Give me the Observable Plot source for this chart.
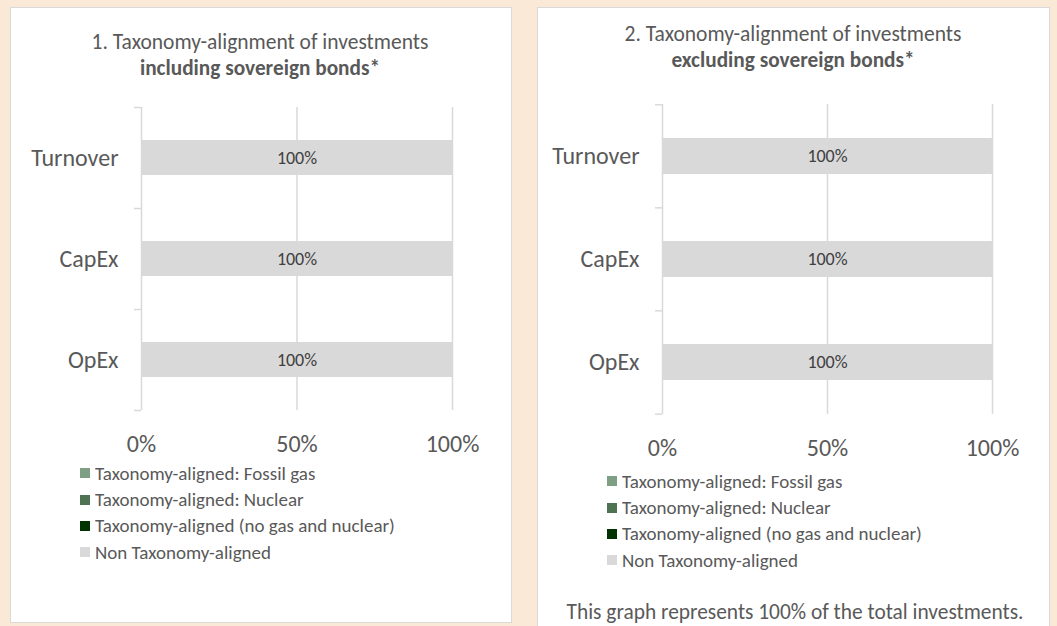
<!DOCTYPE html>
<html>
<head>
<meta charset="utf-8">
<script src="https://cdn.jsdelivr.net/npm/d3@7"></script>
<script src="https://cdn.jsdelivr.net/npm/@observablehq/plot@0.6"></script>
<style>
  html, body { margin: 0; padding: 0; }
  body { width: 1057px; height: 626px; overflow: hidden; background: #FBE9D7; position: relative;
         font-family: Carlito, Lato, sans-serif; color: #595959; }
  .panel { position: absolute; background: #fff; border: 1.5px solid #D9D9D9; box-sizing: border-box; }
  .title { position: absolute; text-align: center; font-size: 21.5px; line-height: 26px; color: #595959; white-space: nowrap; }
  .title b { font-weight: 700; font-size: 21.3px; }
  .chart { position: absolute; }
  .leg { position: absolute; }
  .lg-swatch { padding-bottom: 0 !important; height: 26.4px; display: flex !important; align-items: center !important; }
  .lg-swatch svg { margin-right: 5px !important; }
  .caption { position: absolute; text-align: center; font-size: 21.4px; color: #595959; white-space: nowrap; }
</style>
</head>
<body>
<div class="panel" style="left:10px;top:7px;width:502px;height:616px;"></div>
<div class="panel" style="left:537px;top:7px;width:513px;height:640px;"></div>

<div class="title" style="left:60px;width:400px;top:29px;">1. Taxonomy-alignment of investments<br><b>including sovereign bonds*</b></div>
<div class="title" style="left:593px;width:400px;top:21px;">2. Taxonomy-alignment of investments<br><b>excluding sovereign bonds*</b></div>

<div id="chart1" class="chart" style="left:0px;top:80px;"></div>
<div id="chart2" class="chart" style="left:527px;top:80px;"></div>
<div id="leg1" class="leg" style="left:80px;top:460px;"></div>
<div id="leg2" class="leg" style="left:607px;top:468px;"></div>
<div class="caption" style="left:545px;width:500px;top:599px;">This graph represents 100% of the total investments.</div>

<script>
// ---- Data ----
const categories = ["Turnover", "CapEx", "OpEx"];
const seriesNames = [
  "Taxonomy-aligned: Fossil gas",
  "Taxonomy-aligned: Nuclear",
  "Taxonomy-aligned (no gas and nuclear)",
  "Non Taxonomy-aligned"
];
const seriesColors = ["#7F9F85", "#4E7352", "#003300", "#D9D9D9"];
const xTicks = [0, 50, 100];

// Chart 1: including sovereign bonds
const incFossilGas = [0, 0, 0];
const incNuclear   = [0, 0, 0];
const incAligned   = [0, 0, 0];
const incNonAligned = [100, 100, 100];

// Chart 2: excluding sovereign bonds
const excFossilGas = [0, 0, 0];
const excNuclear   = [0, 0, 0];
const excAligned   = [0, 0, 0];
const excNonAligned = [100, 100, 100];

function rowsOf(seriesArrays) {
  const rows = [];
  categories.forEach((c, i) => {
    seriesNames.forEach((s, j) => rows.push({category: c, series: s, value: seriesArrays[j][i]}));
  });
  return rows;
}

const FONT = "Carlito, Lato, sans-serif";
const GRID = "#D9D9D9";

function makeChart(rows, cfg) {
  const {width, height, marginLeft, marginRight, marginTop, marginBottom} = cfg;
  const step = (height - marginTop - marginBottom) / categories.length;
  return Plot.plot({
    width, height, marginLeft, marginRight, marginTop, marginBottom,
    style: {fontFamily: FONT, background: "transparent", color: "#595959", overflow: "visible"},
    x: {domain: [0, 100], axis: null},
    y: {domain: categories, paddingInner: 0.65, paddingOuter: 0.325, axis: null},
    color: {domain: seriesNames, range: seriesColors},
    marks: [
      Plot.ruleX(xTicks, {stroke: GRID, strokeWidth: 1.5}),
      Plot.ruleY(categories, {y: d => d, x1: 0, x2: 0, insetLeft: -7, dy: -step / 2, stroke: GRID, strokeWidth: 1.5}),
      Plot.ruleY(categories.slice(-1), {y: d => d, x1: 0, x2: 0, insetLeft: -7, dy: step / 2, stroke: GRID, strokeWidth: 1.5}),
      Plot.barX(rows, Plot.stackX({x: "value", y: "category", fill: "series", z: "series", order: seriesNames})),
      Plot.text(rows, Plot.stackX({
        x: "value", y: "category", z: "series", order: seriesNames,
        filter: d => d.value > 0,
        text: d => d.value + "%",
        fill: "#404040", fontSize: 18
      })),
      Plot.axisX({ticks: xTicks, tickFormat: d => d + "%", tickSize: 0, tickPadding: 24,
                  fontSize: 24, fill: "#595959", label: null}),
      Plot.axisY({tickSize: 0, tickPadding: 23, fontSize: 24, fill: "#595959", label: null})
    ]
  });
}

const chart1 = makeChart(rowsOf([incFossilGas, incNuclear, incAligned, incNonAligned]),
  {width: 530, height: 380, marginLeft: 141, marginRight: 78, marginTop: 27, marginBottom: 50});
const chart2 = makeChart(rowsOf([excFossilGas, excNuclear, excAligned, excNonAligned]),
  {width: 530, height: 384, marginLeft: 135, marginRight: 65, marginTop: 24, marginBottom: 50});
document.getElementById("chart1").appendChild(chart1);
document.getElementById("chart2").appendChild(chart2);

function makeLegend() {
  return Plot.legend({
    color: {type: "ordinal", domain: seriesNames, range: seriesColors},
    columns: 1, swatchSize: 10, className: "lg",
    style: {fontFamily: FONT, fontSize: "19px", color: "#595959", margin: 0}
  });
}
document.getElementById("leg1").appendChild(makeLegend());
document.getElementById("leg2").appendChild(makeLegend());
</script>
</body>
</html>
